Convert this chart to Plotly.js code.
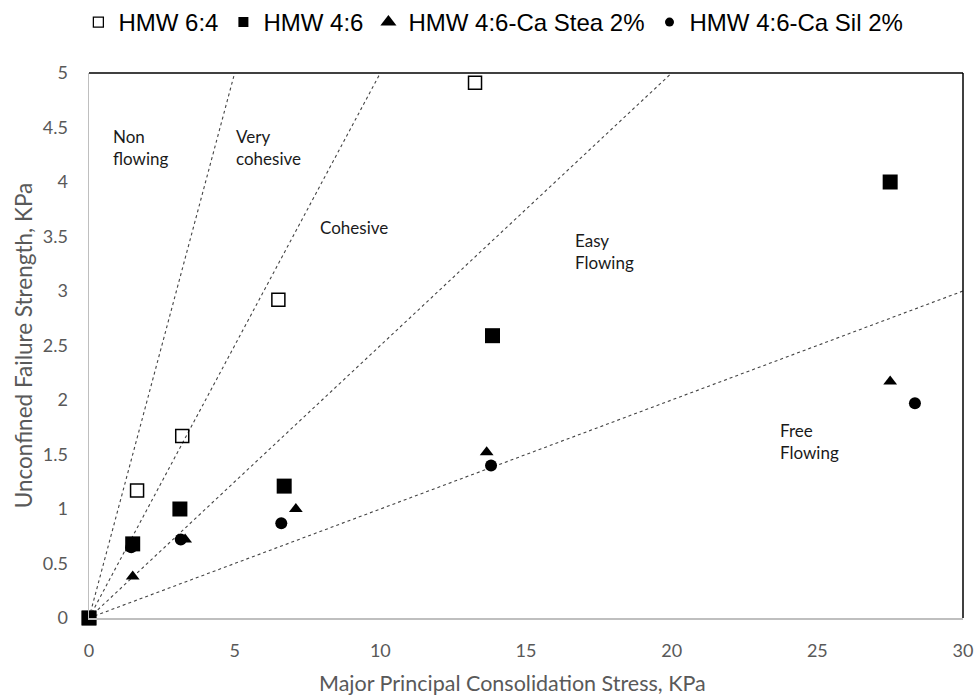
<!DOCTYPE html>
<html>
<head>
<meta charset="utf-8">
<script src="https://cdn.plot.ly/plotly-3.0.1.min.js"></script>
<style>html,body{margin:0;padding:0;background:#fff;}#chart{width:977px;height:698px;}</style>
</head>
<body>
<div id="chart"></div>
<script>
// Series data (σ1, fc) in KPa
const hmw64X = [0, 1.65, 3.2, 6.5, 13.25];
const hmw64Y = [0, 1.17, 1.67, 2.92, 4.91];
const hmw46X = [0, 1.5, 3.12, 6.7, 13.85, 27.5];
const hmw46Y = [0, 0.68, 1.0, 1.21, 2.59, 4.0];
const steaX = [0, 1.5, 3.3, 7.1, 13.65, 27.5];
const steaY = [0, 0.38, 0.72, 1.0, 1.52, 2.17];
const silX = [0, 1.45, 3.15, 6.6, 13.8, 28.35];
const silY = [0, 0.65, 0.72, 0.87, 1.4, 1.97];
const seriesNames = ['HMW 6:4', 'HMW 4:6', 'HMW 4:6-Ca Stea 2%', 'HMW 4:6-Ca Sil 2%'];
// Flow function boundary lines
const boundaryX = [[0, 5], [0, 10], [0, 20], [0, 30]];
const boundaryY = [[0, 5], [0, 5], [0, 5], [0, 3]];
// Region labels
const regionText = ["Non<br>flowing", "Very<br>cohesive", "Cohesive", "Easy<br>Flowing", "Free<br>Flowing"];
const regionX = [0.75, 4.98, 7.85, 16.6, 23.65];
const regionY = [4.32, 4.32, 3.58, 3.36, 1.62];
const xTitle = 'Major Principal Consolidation Stress, KPa';
const yTitle = 'Unconfined Failure Strength, KPa';

const calib = 'Lato, Carlito, "Open Sans", sans-serif';
const traces = [];
boundaryX.forEach((bx, i) => {
  traces.push({x: bx, y: boundaryY[i], mode: 'lines', showlegend: false, hoverinfo: 'skip',
    line: {color: '#444', width: 1.1, dash: 'dot'}});
});
const dataX = [hmw64X, hmw46X, steaX, silX];
const dataY = [hmw64Y, hmw46Y, steaY, silY];
const symbols = ['square-open', 'square', 'triangle-up', 'circle'];
const sizes = [13, 15, 12, 12];
const legSizes = [10, 10, 14, 9];
dataX.forEach((dx, i) => {
  traces.push({x: dx, y: dataY[i], name: seriesNames[i], mode: 'markers', type: 'scatter',
    showlegend: false, cliponaxis: false,
    marker: {symbol: symbols[i], size: sizes[i], color: '#000', line: {width: symbols[i] === 'square-open' ? 1.5 : 0, color: '#000'}}});
});
// legend entries (smaller symbols like the reference legend)
seriesNames.forEach((n, i) => {
  traces.push({x: [null], y: [null], name: n, mode: 'markers', type: 'scatter', showlegend: true,
    marker: {symbol: symbols[i], size: legSizes[i], color: '#000', line: {width: symbols[i] === 'square-open' ? 1.3 : 0, color: '#000'}}});
});

const annotations = regionText.map((t, i) => ({
  x: regionX[i], y: regionY[i], xref: 'x', yref: 'y', text: t, showarrow: false,
  xanchor: 'left', yanchor: 'middle', align: 'left',
  font: {family: calib, size: 17, color: '#1a1a1a'}
}));
annotations.push({x: 0.484, y: -0.119, xref: 'paper', yref: 'paper', text: xTitle, showarrow: false,
  xanchor: 'center', yanchor: 'middle', font: {family: calib, size: 21.5, color: '#595959'}});

const tickFont = {family: calib, size: 18, color: '#595959'};

const layout = {
  width: 977, height: 698,
  margin: {l: 89, r: 14, t: 73, b: 80},
  paper_bgcolor: '#fff', plot_bgcolor: '#fff',
  showlegend: true,
  legend: {orientation: 'h', x: 0.505, xref: 'container', xanchor: 'center', y: 1.0, yref: 'container', yanchor: 'top',
    font: {family: '"Liberation Sans", Arial, sans-serif', size: 24, color: '#000'},
    itemwidth: 30, tracegroupgap: 0, itemsizing: 'trace'},
  xaxis: {range: [0, 30], dtick: 5, tick0: 0, showgrid: false, zeroline: false,
    showline: true, linecolor: '#bfbfbf', linewidth: 1.5,
    ticks: 'outside', ticklen: 16, tickcolor: 'rgba(0,0,0,0)',
    tickfont: tickFont},
  yaxis: {range: [0, 5], dtick: 0.5, tick0: 0, showgrid: false, zeroline: false,
    showline: true, linecolor: '#bfbfbf', linewidth: 1.5,
    ticks: 'outside', ticklen: 16, tickcolor: 'rgba(0,0,0,0)',
    tickfont: tickFont,
    title: {text: yTitle, standoff: 4,
      font: {family: calib, size: 22.5, color: '#595959'}}},
  shapes: [
    {type: 'line', xref: 'paper', yref: 'paper', x0: 0, x1: 1, y0: 1, y1: 1, line: {color: '#000', width: 1.5}},
    {type: 'line', xref: 'paper', yref: 'paper', x0: 1, x1: 1, y0: 0, y1: 1, line: {color: '#000', width: 1.5}}
  ],
  annotations: annotations
};

Plotly.newPlot('chart', traces, layout, {displayModeBar: false, staticPlot: true});
</script>
</body>
</html>
